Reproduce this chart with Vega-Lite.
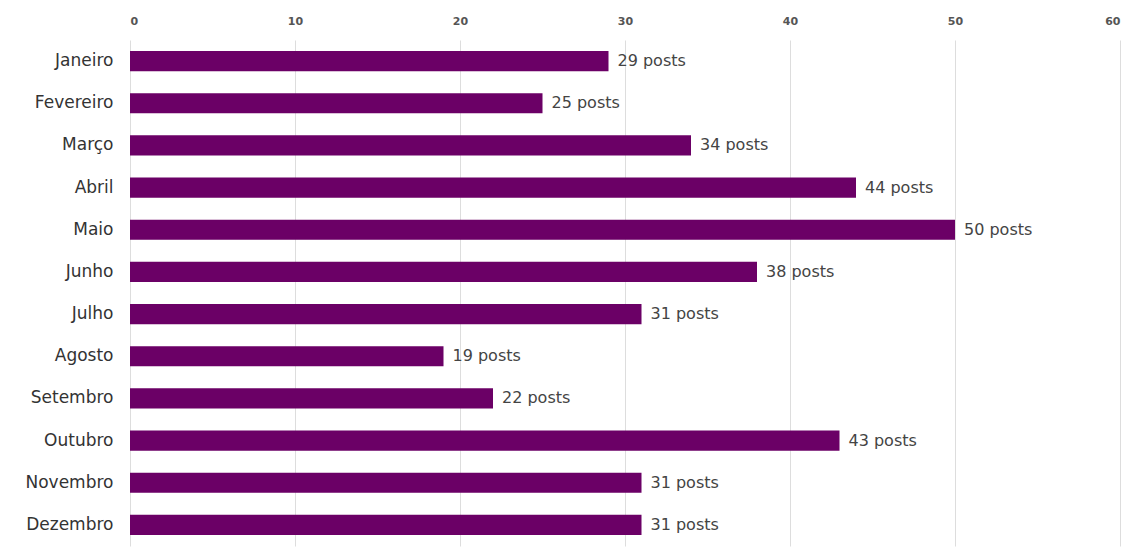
{
  "$schema": "https://vega.github.io/schema/vega-lite/v6.json",
  "width": 990,
  "height": 506,
  "autosize": {"type": "none"},
  "padding": {"left": 130, "top": 40, "right": 15, "bottom": 3},
  "background": "white",
  "config": {"view": {"stroke": null}, "font": "DejaVu Sans"},
  "data": {"values": [
    {"mes": "Janeiro", "posts": 29},
    {"mes": "Fevereiro", "posts": 25},
    {"mes": "Março", "posts": 34},
    {"mes": "Abril", "posts": 44},
    {"mes": "Maio", "posts": 50},
    {"mes": "Junho", "posts": 38},
    {"mes": "Julho", "posts": 31},
    {"mes": "Agosto", "posts": 19},
    {"mes": "Setembro", "posts": 22},
    {"mes": "Outubro", "posts": 43},
    {"mes": "Novembro", "posts": 31},
    {"mes": "Dezembro", "posts": 31}
  ]},
  "encoding": {
    "y": {"field": "mes", "type": "nominal", "sort": null,
      "scale": {"paddingInner": 0.52, "paddingOuter": 0.26},
      "axis": {"title": null, "domain": false, "ticks": false, "labelFontSize": 17, "labelColor": "#333333", "labelPadding": 17, "labelFont": "DejaVu Sans"}},
    "x": {"field": "posts", "type": "quantitative",
      "scale": {"domain": [0, 60], "nice": false},
      "axis": {"orient": "top", "title": null, "domain": false, "ticks": false, "values": [0,10,20,30,40,50,60], "labelFontSize": 11, "labelFontWeight": "bold", "labelColor": "#555555", "labelPadding": 14, "gridColor": "#dddddd", "labelFont": "DejaVu Sans"}}
  },
  "layer": [
    {"mark": {"type": "bar", "color": "#6b0066"}},
    {"mark": {"type": "text", "align": "left", "dx": 9, "fontSize": 16, "color": "#444444", "font": "DejaVu Sans", "text": {"expr": "datum.posts + ' posts'"}}}
  ]
}
